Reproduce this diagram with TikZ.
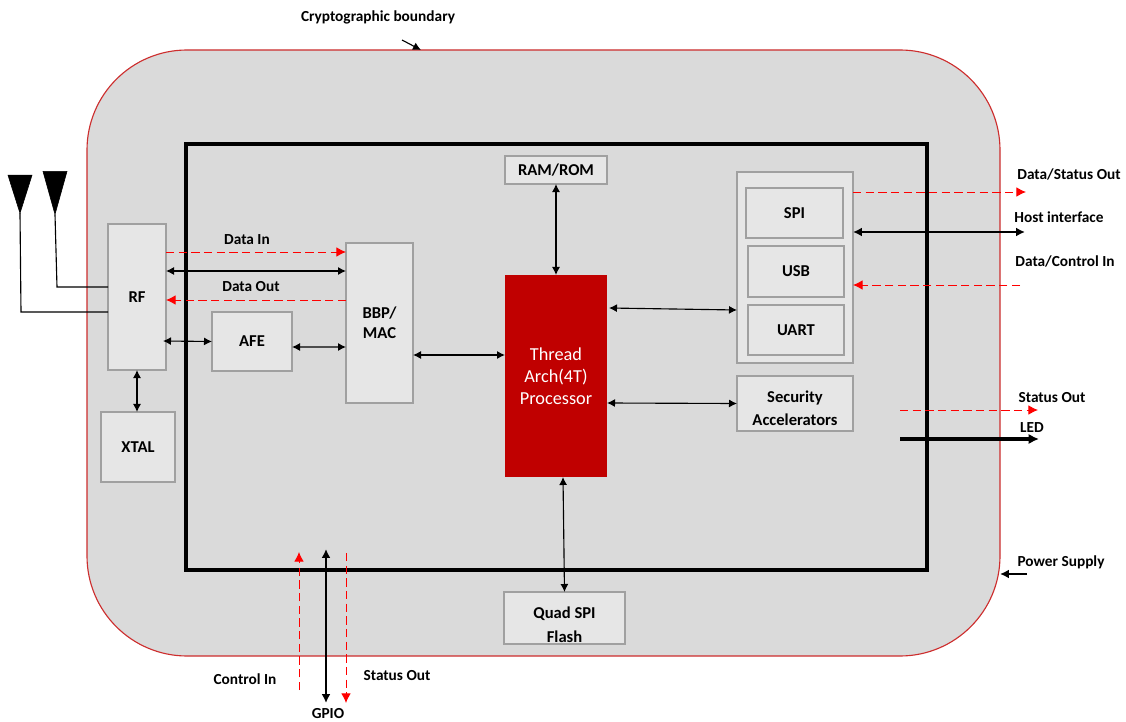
\documentclass[tikz,border=0pt]{standalone}
\usepackage{fontspec}
\setmainfont{Carlito}
\usetikzlibrary{arrows.meta,calc,shapes.geometric}
\definecolor{boundgray}{RGB}{218,218,218}
\definecolor{unitgray}{RGB}{230,230,230}
\definecolor{unitline}{RGB}{160,160,160}
\definecolor{boundred}{RGB}{205,45,45}
\definecolor{procred}{RGB}{192,0,0}
\tikzset{boxsize/.style 2 args={minimum width=#1*0.025cm,minimum height=#2*0.025cm},unit/.style={draw=unitline,fill=unitgray,line width=0.8pt,align=center,inner sep=0pt,outer sep=0pt,font=\bfseries\fontsize{11.8}{17}\selectfont},tag/.style={inner sep=0pt,font=\bfseries\fontsize{10.9}{12}\selectfont},antenna/.style={draw,fill=black,isosceles triangle,isosceles triangle stretches,shape border rotate=270,inner sep=0pt,outer sep=0pt},wire/.style={line width=0.8pt,black},link/.style={{Latex[length=2mm,width=2mm]}-{Latex[length=2mm,width=2mm]},line width=0.8pt},bus/.style={{Latex[length=2.2mm,width=2.2mm]}-{Latex[length=2.2mm,width=2.2mm]},line width=1.6pt},feed/.style={-{Latex[length=2.6mm,width=2.6mm]},line width=2.2pt},sig/.style={-{Latex[length=2.4mm,width=2.4mm]},red,line width=0.7pt,dash pattern=on 6pt off 3pt}}
\begin{document}
\begin{tikzpicture}[x=0.025cm,y=-0.025cm]
\useasboundingbox (0,0) rectangle (1126,722);
\node[draw=boundred,fill=boundgray,line width=0.8pt,rounded corners=2.5cm,boxsize={913}{606},outer sep=0pt] (boundary) at (543.5,353) {};
\node[draw,line width=2.2pt,boxsize={741}{426},outer sep=0pt] (chip) at (556.5,357) {};
\node[unit,boxsize={102}{28}] (mem) at (556,170) {RAM/ROM};
\node[unit,draw=none,fill=procred,text=white,boxsize={102}{202},font=\fontsize{13}{15.7}\selectfont] (proc) at (556,376) {Thread\\Arch(4T)\\Processor};
\node[unit,boxsize={116}{191}] (host) at (795,267.5) {};
\node[unit,boxsize={97}{50}] (spi) at (794.5,213) {SPI};
\node[unit,boxsize={96}{51}] (usb) at (796,271.5) {USB};
\node[unit,boxsize={96}{50}] (uart) at (796,330) {UART};
\node[unit,boxsize={116}{55}] (sec) at (795,403.5) {\rule{0pt}{15pt}Security\\Accelerators};
\node[unit,boxsize={121}{52}] (qspi) at (564.5,618) {\rule{0pt}{18pt}Quad SPI\\Flash};
\node[unit,boxsize={67}{160},font=\bfseries\fontsize{11.8}{14.5}\selectfont] (bbp) at (379.5,323) {BBP/\\MAC};
\node[unit,boxsize={58}{146}] (rf) at (137,297) {RF};
\node[unit,boxsize={80}{59}] (afe) at (252,341.5) {AFE};
\node[unit,boxsize={74}{70}] (xtal) at (138,447) {XTAL};
\node[antenna,boxsize={24}{38}] (anta) at (20,184) {};
\node[antenna,boxsize={24}{43}] (antb) at (55,180.5) {};
\node[tag] (tagboundary) at (378,17) {Cryptographic boundary};
\node[tag] (tagdatain) at (247,240) {Data In};
\node[tag] (tagdataout) at (251,287) {Data Out};
\node[tag] (tagstatus) at (1069,174) {Data/Status Out};
\node[tag] (taghost) at (1059,217) {Host interface};
\node[tag] (tagctrl) at (1065,261) {Data/Control In};
\node[tag] (tagstatusr) at (1052,398) {Status Out};
\node[tag] (tagled) at (1032,428) {LED};
\node[tag] (tagpower) at (1061,562) {Power Supply};
\node[tag] (tagctrlin) at (245,679) {Control In};
\node[tag] (tagstatusb) at (397,676) {Status Out};
\node[tag] (taggpio) at (328,714) {GPIO};
\coordinate (ptrboundary) at (402,40);
\coordinate (outstatus) at (1026,192);
\coordinate (outhost) at (1025,232);
\coordinate (inctrl) at (1020,285);
\coordinate (statusa) at (900,410);
\coordinate (statusb) at (1038,410);
\coordinate (leda) at (900,439);
\coordinate (ledb) at (1039,439);
\coordinate (powera) at (1027,574);
\coordinate (ctrla) at (299,690);
\coordinate (ctrlb) at (299,552);
\coordinate (gpioa) at (326,549);
\coordinate (gpiob) at (326,703);
\coordinate (stata) at (346,553);
\coordinate (statb) at (346,703);
\draw[wire] (anta.apex)--(21,312)--(rf.west|-0,312);
\draw[wire] (antb.apex)--(57,287)--(rf.west|-0,287);
\draw[sig] ($(rf.north east)+(0,28)$)--($(bbp.north west)+(0,9)$);
\draw[link] ($(rf.north east)+(0,47)$)--($(bbp.north west)+(0,28)$);
\draw[sig] ($(bbp.north west)+(0,57)$)--($(rf.north east)+(0,76)$);
\draw[link] ($(rf.north east)+(-3,117)$)--(afe.west);
\draw[link] ($(afe.east)+(0,5.5)$)--($(bbp.north west)+(0,104)$);
\draw[link] ($(bbp.north east)+(0,112)$)--($(proc.north west)+(0,80)$);
\draw[link] (rf.south)--(xtal.north-|rf.south);
\draw[link] (mem.south)--(proc.north);
\draw[link] ($(proc.north east)+(2,33)$)--($(host.north west)+(0,138)$);
\draw[link] ($(proc.north east)+(0,128)$)--(sec.west);
\draw[link] ($(proc.south)+(7,0)$)--(qspi.north);
\draw[sig] ($(host.north east)+(0,20)$)--(outstatus);
\draw[bus] ($(host.north east)+(0,60)$)--(outhost);
\draw[sig] (inctrl)--($(host.north east)+(0,113)$);
\draw[sig] (statusa)--(statusb);
\draw[feed] (leda)--(ledb);
\draw[-{Latex[length=2.2mm,width=2.2mm]},line width=1.6pt] (powera)--(boundary.east|-powera);
\draw[-{Latex[length=2mm,width=2mm]},line width=0.8pt] (ptrboundary)--(boundary.north-|421,0);
\draw[sig] (ctrla)--(ctrlb);
\draw[bus] (gpioa)--(gpiob);
\draw[sig] (stata)--(statb);
\end{tikzpicture}
\end{document}
